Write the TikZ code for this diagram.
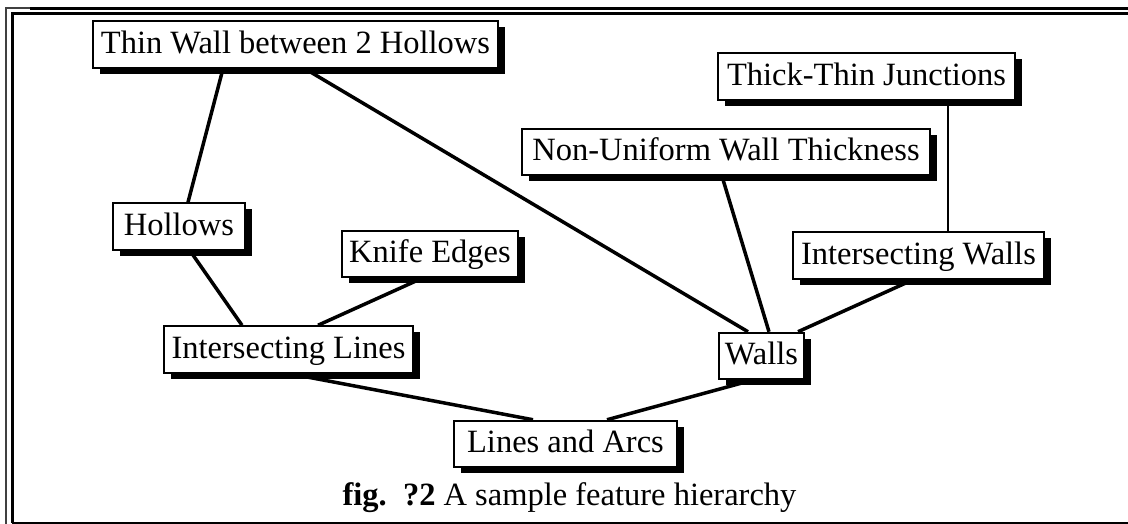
\documentclass[tikz,border=0pt]{standalone}
\usepackage{fontspec}
\setmainfont{Liberation Serif}
\usetikzlibrary{shadows}
\begin{document}
\begin{tikzpicture}[x=1pt,y=-1pt,
  feat/.style={draw=black, line width=2pt, fill=white, inner xsep=0pt, inner ysep=0pt,
    text height=32pt, text depth=14.5pt, font=\fontsize{32.5pt}{36pt}\selectfont,
    drop shadow={shadow xshift=7pt, shadow yshift=-6pt, fill=black, opacity=1}},
  link/.style={line width=3.5pt},
  thinlink/.style={line width=2.2pt}]
\useasboundingbox (0,0) rectangle (1128,524);
% frame
\draw[line width=2pt, black!75] (6,524) -- (6,8.5) -- (1128,8.5);
\draw[line width=3pt] (1128,8.5) -- (30,8.5);
\draw[line width=3pt] (12.5,523) -- (12.5,13.5) -- (1128,13.5);
\draw[line width=2.5pt] (11.5,523) -- (1128,523);
% nodes
\node[feat, minimum width=405pt] (tw)  at (295.5,44.5) {Thin Wall between 2 Hollows};
\node[feat, minimum width=297pt] (ttj) at (866.5,76.5) {Thick-Thin Junctions};
\node[feat, minimum width=408pt] (nuwt) at (726,152) {Non-Uniform Wall Thickness};
\node[feat, minimum width=251pt] (iw)  at (918.5,255.5) {Intersecting Walls};
\node[feat, minimum width=132pt] (hol) at (179,226.5) {Hollows};
\node[feat, minimum width=176pt] (ke)  at (430,254) {Knife Edges};
\node[feat, minimum width=249pt] (il)  at (288.5,349.5) {Intersecting Lines};
\node[feat, minimum width=85pt]  (wl)  at (761.5,356) {Walls};
\node[feat, minimum width=223pt] (la)  at (565.5,444) {Lines and Arcs};
% caption
\node[anchor=base, inner sep=0pt, font=\fontsize{32.5pt}{36pt}\selectfont] (cap) at (569.5,505)
  {\textbf{fig.\ \ ?2} A sample feature hierarchy};
% connectors
\draw[link] ([xshift=-72.5pt]tw.south) -- ([xshift=9pt]hol.north);
\draw[link] ([xshift=9.5pt]tw.south) -- ([xshift=-13.5pt]wl.north);
\draw[link] ([xshift=11pt]hol.south) -- ([xshift=-46.5pt]il.north);
\draw[link] ([xshift=-8pt]ke.south) -- ([xshift=29.5pt]il.north);
\draw[link] ([xshift=1.5pt]il.south) -- ([xshift=-32.5pt]la.north);
\draw[link] ([xshift=-9.5pt]wl.south) -- ([xshift=41.5pt]la.north);
\draw[link] ([xshift=-4pt]nuwt.south) -- ([xshift=7.5pt]wl.north);
\draw[link] ([xshift=-5.5pt]iw.south) -- ([xshift=36.5pt]wl.north);
\draw[thinlink] ([xshift=81.5pt]ttj.south) -- ([xshift=29.5pt]iw.north);
\end{tikzpicture}
\end{document}
